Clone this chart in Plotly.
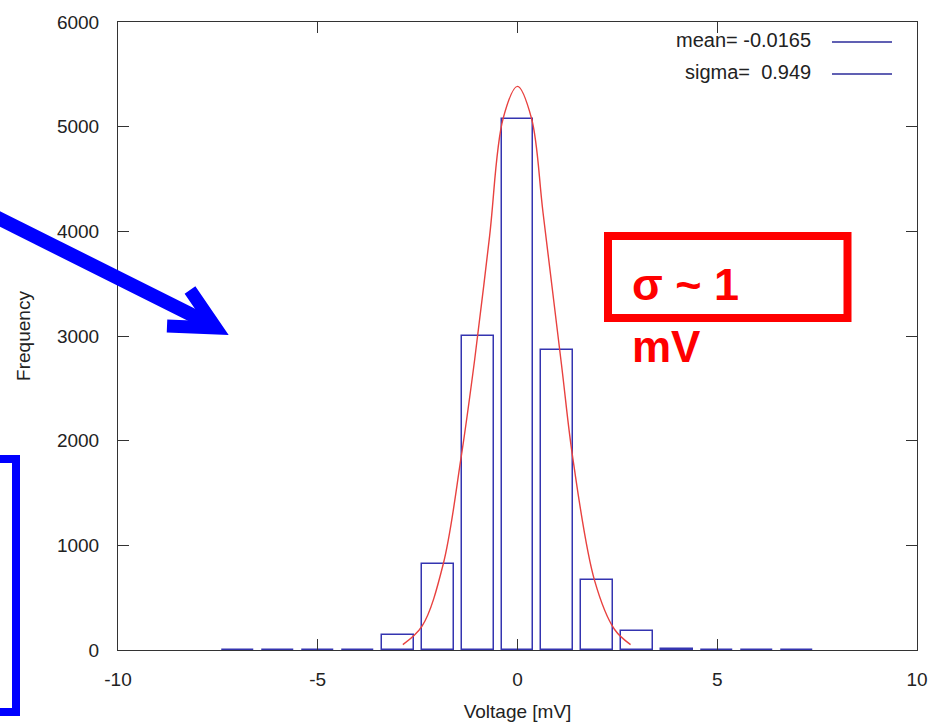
import plotly.graph_objects as go

# ---- data ----
bin_centers = [-7, -6, -5, -4, -3, -2, -1, 0, 1, 2, 3, 4, 5, 6, 7]
counts = [0, 0, 0, 0, 146, 820, 3000, 5076, 2867, 667, 184, 12, 0, 0, 0]

fit_x = [-2.87, -2.39, -1.86, -1.42, -1.07, -0.70, -0.36, 0.0, 0.35, 0.64, 1.10, 1.39, 1.93, 2.43, 2.83]
fit_y = [52, 227, 819, 1818, 2780, 3950, 5078, 5385, 5081, 4175, 2730, 1818, 663, 196, 52]

legend_lines = ["mean= -0.0165", "sigma=  0.949"]
x_ticks = [-10, -5, 0, 5, 10]
x_tick_labels = ["-10", "-5", "0", "5", "10"]
y_ticks = [0, 1000, 2000, 3000, 4000, 5000, 6000]

# ---- layout geometry (pixels) ----
W, H = 934, 724
ML, MR, MT, MB = 118, 17, 22, 74
PW, PH = W - ML - MR, H - MT - MB


def X(px):
    return (px - ML) / PW


def Y(py):
    return (H - MB - py) / PH


BAR_COL = "#3434b0"
FONT = "Liberation Sans, Arial, sans-serif"
TXT = "#222222"
AX = "#333333"

fig = go.Figure()
fig.add_trace(go.Bar(
    x=bin_centers, y=counts, width=0.8,
    marker=dict(color="rgba(0,0,0,0)", line=dict(color=BAR_COL, width=1.5)),
    showlegend=False, hoverinfo="x+y",
))
fig.add_trace(go.Scatter(
    x=fit_x, y=fit_y, mode="lines",
    line=dict(color="#e8413f", width=1.4, shape="spline", smoothing=1.0),
    showlegend=False,
))

axis_common = dict(
    showgrid=False, zeroline=False, showline=True, linecolor=AX, linewidth=1,
    mirror="ticks", ticks="inside", ticklen=11, tickcolor=AX, tickwidth=1,
    tickfont=dict(family=FONT, size=19, color=TXT),
)

fig.update_layout(
    width=W, height=H,
    margin=dict(l=ML, r=MR, t=MT, b=MB, autoexpand=False),
    paper_bgcolor="white", plot_bgcolor="white",
    xaxis=dict(range=[-10, 10], tickvals=x_ticks, ticktext=x_tick_labels, ticklabelstandoff=12,
               title=dict(text="Voltage [mV]", font=dict(family=FONT, size=19, color=TXT), standoff=15),
               **axis_common),
    yaxis=dict(range=[0, 6000], tickvals=y_ticks, ticklabelstandoff=14,
               title=dict(text="Frequency", font=dict(family=FONT, size=19, color=TXT), standoff=21),
               **axis_common),
    font=dict(family=FONT, color=TXT),
    bargap=0,
)

shapes = []
annotations = []

# legend-like key (gnuplot style: text right-aligned, sample line on the right)
for i, txt in enumerate(legend_lines):
    ty = 40 + 32 * i
    annotations.append(dict(
        x=X(813), y=Y(ty), xref="paper", yref="paper", text=txt, showarrow=False,
        xanchor="right", yanchor="middle", font=dict(family=FONT, size=20, color=TXT),
    ))
    shapes.append(dict(type="line", xref="paper", yref="paper",
                       x0=X(832), x1=X(892), y0=Y(ty + 2), y1=Y(ty + 2),
                       line=dict(color="#2b2b9a", width=1.4)))

# blue arrow (overlay)
BLUE = "#0000ff"
shaft = f"M {X(-10)},{Y(214)} L {X(210)},{Y(324)}"
shapes.append(dict(type="path", xref="paper", yref="paper", path=shaft,
                   line=dict(color=BLUE, width=14)))
head = f"M {X(167)},{Y(326)} L {X(216)},{Y(328)} L {X(190)},{Y(290)}"
shapes.append(dict(type="path", xref="paper", yref="paper", path=head,
                   line=dict(color=BLUE, width=13)))

# blue bracket box at left bottom
shapes.append(dict(type="rect", xref="paper", yref="paper",
                   x0=X(-30), x1=X(16), y0=Y(712), y1=Y(459),
                   line=dict(color=BLUE, width=8)))

# red box with label
RED = "#ff0000"
shapes.append(dict(type="rect", xref="paper", yref="paper",
                   x0=X(608), x1=X(847.5), y0=Y(318), y1=Y(236),
                   line=dict(color=RED, width=8)))
annotations.append(dict(x=X(630), y=Y(284), xref="paper", yref="paper", text="<b>σ ~ 1</b>",
                        showarrow=False, xanchor="left", yanchor="middle",
                        font=dict(family=FONT, size=45, color=RED)))
annotations.append(dict(x=X(630), y=Y(347), xref="paper", yref="paper", text="<b>mV</b>",
                        showarrow=False, xanchor="left", yanchor="middle",
                        font=dict(family=FONT, size=44, color=RED)))

fig.update_layout(shapes=shapes, annotations=annotations)
fig.write_html("out.html")
